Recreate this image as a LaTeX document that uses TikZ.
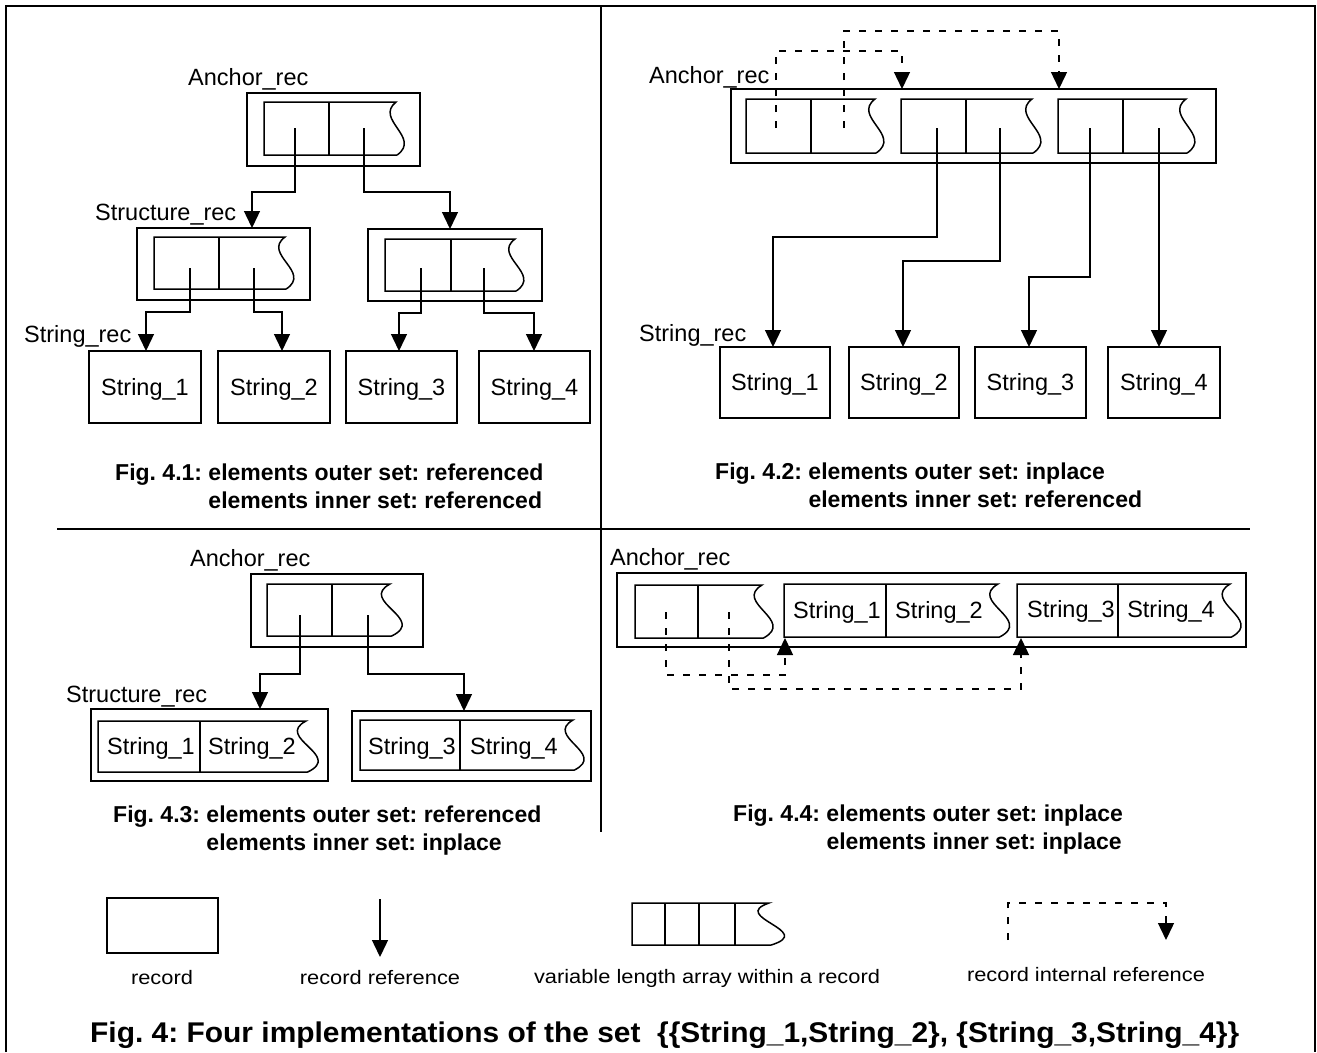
\documentclass[tikz,border=0pt]{standalone}
\usepackage{fontspec}
\setmainfont{Liberation Sans}
\newfontfamily\legfont{Liberation Sans}[FakeStretch=1.12]
\newfontfamily\titfont{Liberation Sans}[FakeStretch=1.05]
\usetikzlibrary{arrows.meta}
\frenchspacing
\newcommand{\labf}{\fontsize{23.5}{28}\selectfont}
\newcommand{\capf}{\bfseries\fontsize{23}{28}\selectfont}
\newcommand{\legf}{\legfont\fontsize{19.5}{24}\selectfont}
\newcommand{\titf}{\titfont\bfseries\fontsize{28.5}{34}\selectfont}
% record box node: name, x1, y1, x2, y2, text
\newcommand{\recbox}[6]{\node[rec,anchor=north west,minimum width={(#4-#2)*1pt},minimum height={(#5-#3)*1pt}] (#1) at (#2,#3) {#6};}
% variable length array: x1, ytop, ybottom, x of wave top, wave bulge
\newcommand{\vla}[5]{\draw[ln] ({#4+0.15*#5},#3) -- (#1,#3) -- (#1,#2) -- (#4,#2)
  .. controls ({#4-2.9*#5},{#2+0.33*(#3-#2)}) and ({#4+3.4*#5},{#2+0.67*(#3-#2)}) .. ({#4+0.15*#5},#3);}
\begin{document}
\begin{tikzpicture}[x=1pt,y=-1pt,
  ln/.style={line width=1.5pt},
  rec/.style={draw,line width=1.5pt,inner sep=0pt,outer sep=0pt,text height=16.8pt,text depth=0pt,font=\labf},
  ptr/.style={line width=1.4pt,-{Triangle[width=16pt,length=17pt]}},
  dptr/.style={ptr,dash pattern=on 7pt off 9pt},
  lab/.style={font=\labf,inner sep=0pt},
  capt/.style={font=\capf,inner sep=0pt},
  legl/.style={font=\legf,inner sep=0pt},
  titl/.style={font=\titf,inner sep=0pt}]
\fill[white] (0,0) rectangle (1317,1052);
\useasboundingbox (0,0) rectangle (1317,1052);
% frame and dividers
\draw[line width=2pt] (6,1052) -- (6,6) -- (1315,6) -- (1315,1052);
\draw[ln] (601,6) -- (601,832);
\draw[ln] (57,529) -- (1250,529);

% ---------------- Fig 4.1 ----------------
\node[lab,anchor=base west] (q1la) at (188,85) {Anchor\_rec};
\recbox{q1anc}{247}{93}{420}{166}{}
\vla{264}{102}{155}{396}{7.5}
\draw[ln] (329,102) -- (329,155);
\coordinate (q1o1) at (295,128);
\coordinate (q1o2) at (364,128);
\node[lab,anchor=base west] (q1ls) at (95,220) {Structure\_rec};
\recbox{q1s1}{137}{228}{310}{300}{}
\vla{154}{237}{289}{285}{8}
\draw[ln] (219,237) -- (219,289);
\recbox{q1s2}{368}{229}{542}{301}{}
\vla{385}{239}{291}{515}{8}
\draw[ln] (451,239) -- (451,291);
\coordinate (q1o3) at (190,268);
\coordinate (q1o4) at (254,268);
\coordinate (q1o5) at (421,268);
\coordinate (q1o6) at (484,268);
\node[lab,anchor=base west] (q1lt) at (24,342) {String\_rec};
\recbox{q1t1}{89}{351}{201}{423}{String\_1}
\recbox{q1t2}{218}{351}{330}{423}{String\_2}
\recbox{q1t3}{346}{351}{457}{423}{String\_3}
\recbox{q1t4}{479}{351}{590}{423}{String\_4}
\draw[ptr] (q1o1) |- (252,192) -- (252,0 |- q1s1.north);
\draw[ptr] (q1o2) |- (450,192) -- (450,0 |- q1s2.north);
\draw[ptr] (q1o3) |- (146,312) -- (146,0 |- q1t1.north);
\draw[ptr] (q1o4) |- (282,312) -- (282,0 |- q1t2.north);
\draw[ptr] (q1o5) |- (399,313) -- (399,0 |- q1t3.north);
\draw[ptr] (q1o6) |- (534,313) -- (534,0 |- q1t4.north);
\node[capt,anchor=base west] (q1c) at (115,480) {\begin{tabular}[t]{@{}l@{\ }l@{}}Fig. 4.1: & elements outer set: referenced\\ & elements inner set: referenced\end{tabular}};

% ---------------- Fig 4.2 ----------------
\node[lab,anchor=base west] (q2la) at (649,83) {Anchor\_rec};
\recbox{q2anc}{731}{89}{1216}{163}{}
\vla{746}{99}{153}{875}{8}
\draw[ln] (811,99) -- (811,153);
\vla{901}{99}{153}{1032}{8}
\draw[ln] (966,99) -- (966,153);
\vla{1058}{99}{153}{1186}{8}
\draw[ln] (1123,99) -- (1123,153);
\coordinate (q2d1) at (776,128);
\coordinate (q2d2) at (844,128);
\coordinate (q2o1) at (937,128);
\coordinate (q2o2) at (1000,128);
\coordinate (q2o3) at (1090,128);
\coordinate (q2o4) at (1159,128);
\draw[dptr] (q2d1) |- (902,51) -- (902,0 |- q2anc.north);
\draw[dptr] (q2d2) |- (1059,31) -- (1059,0 |- q2anc.north);
\node[lab,anchor=base west] (q2lt) at (639,341) {String\_rec};
\recbox{q2t1}{720}{347}{830}{418}{String\_1}
\recbox{q2t2}{849}{347}{959}{418}{String\_2}
\recbox{q2t3}{975}{347}{1086}{418}{String\_3}
\recbox{q2t4}{1108}{347}{1220}{418}{String\_4}
\draw[ptr] (q2o1) |- (773,237) -- (773,0 |- q2t1.north);
\draw[ptr] (q2o2) |- (903,261) -- (903,0 |- q2t2.north);
\draw[ptr] (q2o3) |- (1029,277) -- (1029,0 |- q2t3.north);
\draw[ptr] (q2o4) -- (q2o4 |- q2t4.north);
\node[capt,anchor=base west] (q2c) at (715,479) {\begin{tabular}[t]{@{}l@{\ }l@{}}Fig. 4.2: & elements outer set: inplace\\ & elements inner set: referenced\end{tabular}};

% ---------------- Fig 4.3 ----------------
\node[lab,anchor=base west] (q3la) at (190,566) {Anchor\_rec};
\recbox{q3anc}{251}{574}{423}{647}{}
\vla{267}{584}{636}{390}{11}
\draw[ln] (332,584) -- (332,636);
\coordinate (q3o1) at (300,615);
\coordinate (q3o2) at (368,615);
\node[lab,anchor=base west] (q3ls) at (66,702) {Structure\_rec};
\recbox{q3s1}{91}{709}{328}{781}{}
\vla{98}{721}{772}{306}{11}
\draw[ln] (200,721) -- (200,772);
\node[lab,anchor=base] (q3x1) at (151,754) {String\_1};
\node[lab,anchor=base] (q3x2) at (252,754) {String\_2};
\recbox{q3s2}{352}{711}{591}{781}{}
\vla{360}{720}{770}{573}{10}
\draw[ln] (460,720) -- (460,770);
\node[lab,anchor=base] (q3x3) at (412,754) {String\_3};
\node[lab,anchor=base] (q3x4) at (514,754) {String\_4};
\draw[ptr] (q3o1) |- (260,674) -- (260,0 |- q3s1.north);
\draw[ptr] (q3o2) |- (464,674) -- (464,0 |- q3s2.north);
\node[capt,anchor=base west] (q3c) at (113,822) {\begin{tabular}[t]{@{}l@{\ }l@{}}Fig. 4.3: & elements outer set: referenced\\ & elements inner set: inplace\end{tabular}};

% ---------------- Fig 4.4 ----------------
\node[lab,anchor=base west] (q4la) at (610,565) {Anchor\_rec};
\recbox{q4anc}{617}{573}{1246}{647}{}
\vla{635}{585}{638}{762}{10}
\draw[ln] (698,585) -- (698,638);
\vla{784}{584}{637}{998}{10.5}
\draw[ln] (886,584) -- (886,637);
\vla{1017}{584}{637}{1230}{10}
\draw[ln] (1118,584) -- (1118,637);
\node[lab,anchor=base] (q4x1) at (837,618) {String\_1};
\node[lab,anchor=base] (q4x2) at (939,618) {String\_2};
\node[lab,anchor=base] (q4x3) at (1071,617) {String\_3};
\node[lab,anchor=base] (q4x4) at (1171,617) {String\_4};
\coordinate (q4d1) at (666,612);
\coordinate (q4d2) at (729,612);
\coordinate (q4t1) at (785,638);
\coordinate (q4t2) at (1021,638);
\draw[dptr] (q4d1) |- (785,675) -- (q4t1);
\draw[dptr] (q4d2) |- (1021,689) -- (q4t2);
\node[capt,anchor=base west] (q4c) at (733,821) {\begin{tabular}[t]{@{}l@{\ }l@{}}Fig. 4.4: & elements outer set: inplace\\ & elements inner set: inplace\end{tabular}};

% ---------------- legend ----------------
\recbox{lgrec}{107}{898}{218}{953}{}
\coordinate (lgr1) at (380,899);
\coordinate (lgr2) at (380,957);
\draw[ptr] (lgr1) -- (lgr2);
\vla{632}{903}{945}{769}{14}
\draw[ln] (665,903) -- (665,945);
\draw[ln] (699,903) -- (699,945);
\draw[ln] (735,903) -- (735,945);
\coordinate (lgi1) at (1008,940);
\coordinate (lgi2) at (1166,940);
\draw[dptr] (lgi1) |- (1166,903) -- (lgi2);
\node[legl,anchor=base] (lgt1) at (162,984) {record};
\node[legl,anchor=base] (lgt2) at (380,984) {record reference};
\node[legl,anchor=base] (lgt3) at (707,983) {variable length array within a record};
\node[legl,anchor=base] (lgt4) at (1086,981) {record internal reference};

% ---------------- title ----------------
\node[titl,anchor=base west] (title) at (90,1042) {Fig. 4: Four implementations of the set~~\{\{String\_1,String\_2\}, \{String\_3,String\_4\}\}};
\end{tikzpicture}
\end{document}
